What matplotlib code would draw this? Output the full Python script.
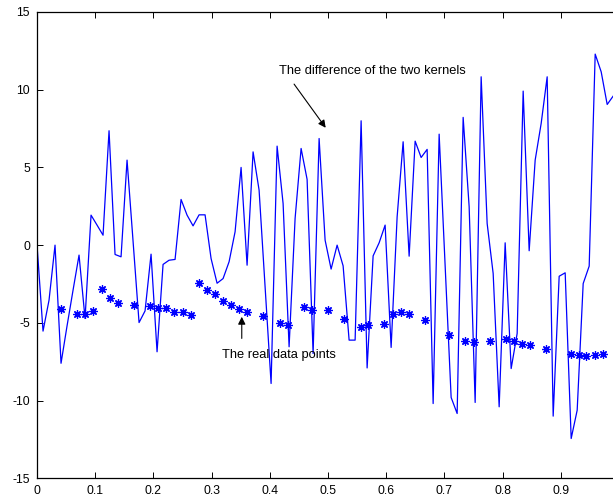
import numpy as np
import matplotlib
matplotlib.use('Agg')
import matplotlib.pyplot as plt

plt.rcParams['font.family'] = ['Liberation Sans', 'DejaVu Sans']
plt.rcParams['axes.unicode_minus'] = False

# difference of the two kernels, evenly sampled on [0, 0.99]
kernel_x = np.linspace(0, 0.99, 97)
kernel_diff = [
    0.0, -5.53, -3.54, 0.0, -7.6, -5.2, -2.9, -0.64, -4.72, 1.93,
    1.29, 0.64, 7.36, -0.6, -0.75, 5.47, 0.26, -4.98, -4.23, -0.58,
    -6.86, -1.24, -0.97, -0.92, 2.94, 1.93, 1.24, 1.95, 1.95, -0.86,
    -2.45, -2.15, -1.07, 0.86, 5.0, -1.29, 6.0, 3.54, -2.68, -8.9,
    6.37, 2.68, -6.54, 1.72, 6.22, 4.23, -6.97, 6.86, 0.32, -1.54,
    0.0, -1.33, -6.11, -6.11, 8.0, -7.9, -0.69, 0.15, 1.29, -6.58,
    1.82, 6.65, -0.71, 6.69, 5.64, 6.16, -10.19, 7.14, -1.33, -9.8,
    -10.83, 8.22, 2.47, -10.12, 10.83, 1.39, -1.82, -10.4, 0.15, -7.94,
    -5.68, 9.91, -0.36, 5.47, 7.83, 10.83, -11.0, -2.0, -1.78, -12.44,
    -10.62, -2.47, -1.35, 12.29, 11.15, 9.05, 9.59,
]

# measured data points
real_x = [
    0.042, 0.069, 0.083, 0.097, 0.111, 0.125, 0.139, 0.167, 0.194, 0.208,
    0.222, 0.236, 0.250, 0.264, 0.278, 0.292, 0.306, 0.319, 0.333, 0.347,
    0.361, 0.389, 0.417, 0.431, 0.458, 0.472, 0.500, 0.528, 0.556, 0.569,
    0.597, 0.611, 0.625, 0.639, 0.667, 0.708, 0.736, 0.750, 0.778, 0.806,
    0.819, 0.833, 0.847, 0.875, 0.917, 0.931, 0.944, 0.958, 0.972,
]
real_y = [
    -4.08, -4.4, -4.4, -4.23, -2.79, -3.37, -3.73, -3.86, -3.9, -4.05,
    -4.05, -4.33, -4.33, -4.48, -2.42, -2.9, -3.15, -3.58, -3.82, -4.12,
    -4.27, -4.57, -5.04, -5.15, -3.95, -4.16, -4.16, -4.72, -5.26, -5.15,
    -5.1, -4.44, -4.29, -4.44, -4.83, -5.79, -6.16, -6.22, -6.16, -6.03,
    -6.16, -6.33, -6.44, -6.69, -7.01, -7.08, -7.1, -7.08, -7.01,
]

x_ticks = [0, 0.1, 0.2, 0.3, 0.4, 0.5, 0.6, 0.7, 0.8, 0.9, 1]
x_labels = ['0', '0.1', '0.2', '0.3', '0.4', '0.5', '0.6', '0.7', '0.8', '0.9', '']
y_ticks = [-15, -10, -5, 0, 5, 10, 15]

fig = plt.figure(figsize=(6.13, 4.97), dpi=100)
axe = fig.add_axes([0.0604, 0.0376, 0.9494, 0.9383])

axe.plot(kernel_x, kernel_diff, color='#0000ff', lw=0.9)
axe.plot(real_x, real_y, ls='none', marker=(8, 2, 0), markersize=6,
         markeredgecolor='#0000ff', markerfacecolor='#0000ff', markeredgewidth=0.9)

axe.set_xlim(0, 1)
axe.set_ylim(-15, 15)
axe.set_xticks(x_ticks)
axe.set_xticklabels(x_labels)
axe.set_yticks(y_ticks)
axe.tick_params(direction='in', length=4.5, width=0.7, top=True, right=True,
                labelsize=8.8, pad=5)
for sp in axe.spines.values():
    sp.set_linewidth(0.9)

arrow = dict(arrowstyle='-|>', color='black', lw=0.8, mutation_scale=11,
             shrinkA=0, shrinkB=0)
axe.annotate('', xy=(0.496, 7.55), xytext=(0.4417, 10.36), arrowprops=arrow)
axe.text(0.416, 11.2, 'The difference of the two kernels', fontsize=9.3,
         va='center', ha='left')
axe.annotate('', xy=(0.3518, -4.61), xytext=(0.3518, -6.0), arrowprops=arrow)
axe.text(0.3183, -7.08, 'The real data points', fontsize=9.3, va='center', ha='left')

fig.savefig('out.png', dpi=100)
